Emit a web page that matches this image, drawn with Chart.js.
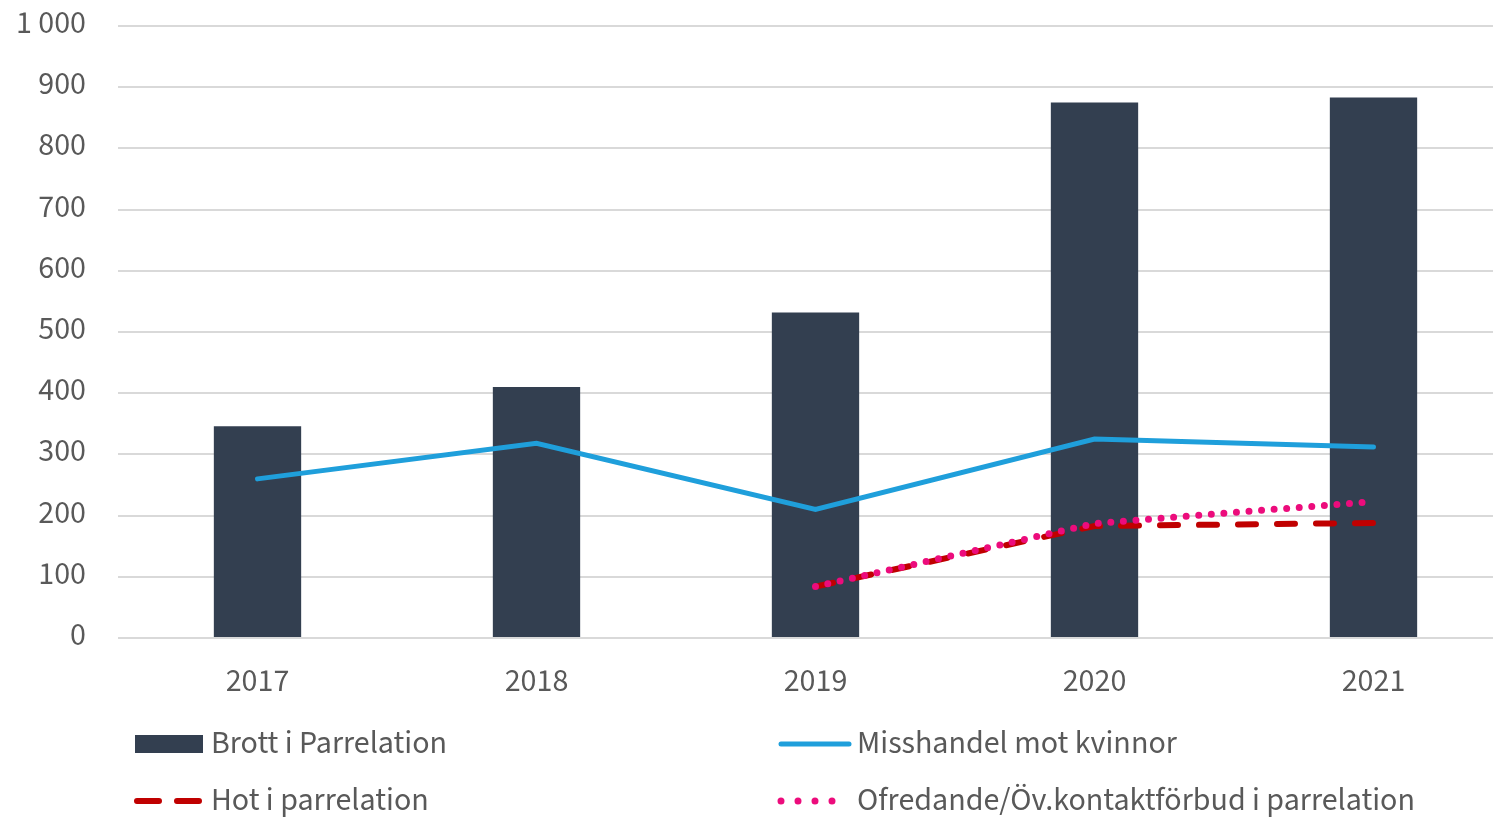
<!DOCTYPE html>
<html>
<head>
<meta charset="utf-8">
<script src="https://cdn.jsdelivr.net/npm/chart.js@4"></script>
<style>
  html, body { margin: 0; padding: 0; background: #fff; overflow: hidden; }
  #wrap { width: 1513px; height: 817px; }
</style>
</head>
<body>
<div id="wrap"><canvas id="myChart" width="1513" height="817"></canvas></div>
<script>
// data
var years = ["2017", "2018", "2019", "2020", "2021"];
var brott = [346, 410, 532, 875, 883];
var misshandel = [260, 318, 210, 325, 312];
var hot = [null, null, 84, 183, 188];
var ofredande = [null, null, 84, 187, 223];
var yTicks = [0, 100, 200, 300, 400, 500, 600, 700, 800, 900, 1000];

var FONT = "'Source Sans Pro', 'Source Sans 3', Lato, 'Noto Sans', sans-serif";
var TEXT = "#595959";

// legend drawn by hand so it can sit in two columns like the original
var legendPlugin = {
    id: 'twoColLegend',
    afterDraw: function (chart) {
        var ctx = chart.ctx;
        var spots = [[135, 744], [779, 744], [135, 801], [779, 801]];
        ctx.save();
        ctx.font = "32px " + FONT;
        ctx.textBaseline = 'middle';
        chart.data.datasets.forEach(function (ds, k) {
            var x = spots[k][0], y = spots[k][1];
            var textX;
            if (ds.type === 'bar') {
                ctx.fillStyle = ds.backgroundColor;
                ctx.fillRect(x, y - 9, 68, 18);
                textX = x + 76;
            } else {
                ctx.strokeStyle = ds.borderColor;
                ctx.lineWidth = ds.borderWidth;
                ctx.lineCap = ds.borderCapStyle || 'butt';
                ctx.setLineDash(ds.legendDash || []);
                ctx.beginPath();
                ctx.moveTo(x + 2, y);
                ctx.lineTo(x + (ds.legendLen || 68), y);
                ctx.stroke();
                ctx.setLineDash([]);
                textX = ds.legendText || (x + 78);
            }
            ctx.fillStyle = TEXT;
            ctx.fillText(ds.label, textX, y + 2);
        });
        ctx.restore();
    }
};

var ctx = document.getElementById("myChart").getContext('2d');
var myChart = new Chart(ctx, {
    type: 'bar',
    data: {
        labels: years,
        datasets: [{
                type: 'bar',
                label: "Brott i Parrelation",
                data: brott,
                backgroundColor: "#333f50",
                categoryPercentage: 1,
                barPercentage: 0.313,
                order: 3
            }, {
                type: 'line',
                label: "Misshandel mot kvinnor",
                data: misshandel,
                borderColor: "#1f9fdb",
                borderWidth: 5,
                borderCapStyle: 'round',
                pointRadius: 0,
                tension: 0,
                order: 2,
                legendLen: 70
            }, {
                type: 'line',
                label: "Hot i parrelation",
                data: hot,
                borderColor: "#c00000",
                borderWidth: 6,
                borderCapStyle: 'round',
                borderDash: [18, 21],
                pointRadius: 0,
                tension: 0,
                order: 1,
                legendDash: [22, 18],
                legendLen: 64,
                legendText: 211
            }, {
                type: 'line',
                label: "Ofredande/Öv.kontaktförbud i parrelation",
                data: ofredande,
                borderColor: "#ec0c7c",
                borderWidth: 7,
                borderCapStyle: 'round',
                borderDash: [0, 12.6],
                pointRadius: 0,
                tension: 0,
                order: 0,
                legendDash: [0, 17],
                legendLen: 56,
                legendText: 857
            }]
    },
    options: {
        responsive: false,
        animation: false,
        layout: { padding: { top: 26, right: 0, bottom: 109, left: 0 } },
        plugins: {
            legend: { display: false },
            tooltip: { enabled: false }
        },
        scales: {
            x: {
                grid: { display: false, drawTicks: false },
                border: { display: false },
                ticks: { color: TEXT, font: { family: FONT, size: 32 }, padding: 27 },
                afterFit: function (axis) { axis.height = 70; axis.paddingLeft = 0; axis.paddingRight = 0; }
            },
            y: {
                min: 0,
                max: 1000,
                afterBuildTicks: function (axis) {
                    axis.ticks = yTicks.map(function (v) { return { value: v }; });
                },
                grid: { color: "#d9d9d9", lineWidth: 2, drawTicks: false },
                border: { display: false },
                ticks: {
                    color: TEXT,
                    font: { family: FONT, size: 32 },
                    padding: 32,
                    callback: function (v) { return String(v).replace(/\B(?=(\d{3})+(?!\d))/g, " "); }
                },
                afterFit: function (axis) { axis.width = 118; axis.paddingTop = 0; axis.paddingBottom = 0; }
            }
        }
    },
    plugins: [legendPlugin]
});
</script>
</body>
</html>
